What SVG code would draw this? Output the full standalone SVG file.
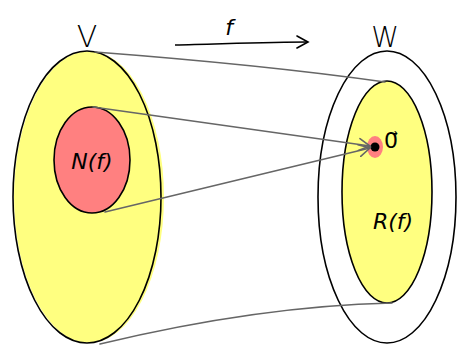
<svg xmlns="http://www.w3.org/2000/svg" width="457" height="346" viewBox="0 0 457 346">
<style>
.outline{stroke:#000;stroke-width:1.6;}
.conn{fill:none;stroke:#666;stroke-width:1.6;stroke-linecap:round;}
.lbl{font-family:"DejaVu Sans",sans-serif;fill:#000;text-anchor:middle;}
</style>
<defs>
<marker id="open" markerWidth="14" markerHeight="14" refX="12" refY="7" orient="auto" markerUnits="userSpaceOnUse">
<path d="M1,1 L12,7 L1,13" fill="none" stroke="#666" stroke-width="1.6" stroke-linecap="round"/>
</marker>
<marker id="openb" markerWidth="14" markerHeight="14" refX="12" refY="7" orient="auto" markerUnits="userSpaceOnUse">
<path d="M1,1 L12,7 L1,13" fill="none" stroke="#000" stroke-width="1.6" stroke-linecap="round"/>
</marker>
</defs>
<rect width="457" height="346" fill="#fff"/>
<g id="V">
<ellipse cx="89" cy="197" rx="75" ry="146" fill="#ffff80"/>
<ellipse cx="87" cy="197" rx="74" ry="146" fill="none" class="outline"/>
<text class="lbl" x="87" y="47" font-size="30" font-weight="300">V</text>
</g>
<g id="N">
<ellipse cx="92" cy="160" rx="38" ry="53" fill="#ff8080" class="outline"/>
<text class="lbl" x="92" y="169" font-size="22" font-style="italic">N(f)</text>
</g>
<g id="W">
<ellipse cx="387" cy="197" rx="69" ry="146" fill="#fff" class="outline"/>
<text class="lbl" x="385" y="47" font-size="28" font-weight="300">W</text>
</g>
<g id="R">
<ellipse cx="387" cy="192" rx="45" ry="111" fill="#ffff80" class="outline"/>
<text class="lbl" x="393" y="229" font-size="22" font-style="italic">R(f)</text>
</g>
<g id="zero">
<ellipse cx="375" cy="147" rx="8" ry="11" fill="#ff8080"/>
<circle cx="375" cy="147" r="4.5" fill="#000"/>
<text class="lbl" x="391" y="148" font-size="22">0⃗</text>
</g>
<g id="connectors">
<path class="conn" d="M95,52 C200,60 300,70 385,82"/>
<path class="conn" d="M93,107 L370,146" marker-end="url(#open)"/>
<path class="conn" d="M105,212 L370,148" marker-end="url(#open)"/>
<path class="conn" d="M100,344 C200,320 300,305 392,303"/>
<path d="M175,45 C220,44 270,42 308,42" fill="none" stroke="#000" stroke-width="1.6" marker-end="url(#openb)"/>
<text class="lbl" x="229" y="35" font-size="22" font-style="italic">f</text>
</g>
</svg>
